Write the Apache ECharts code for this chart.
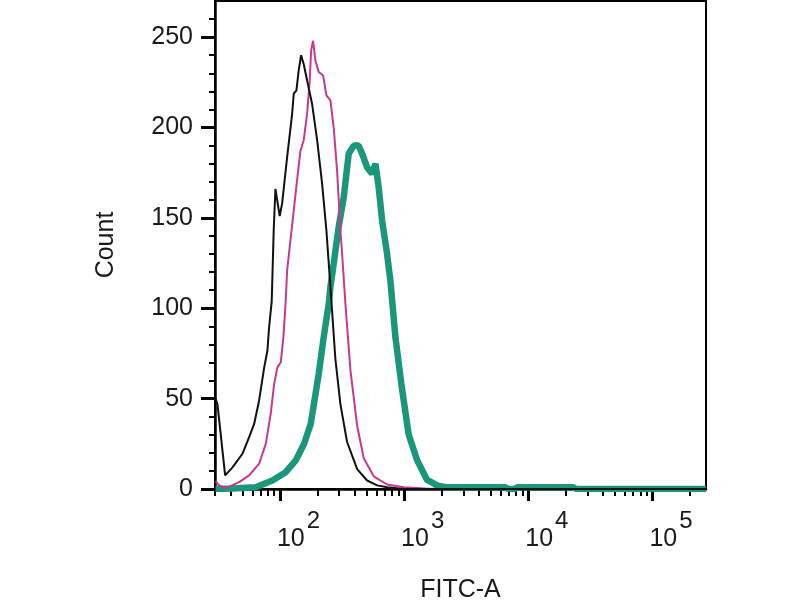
<!DOCTYPE html>
<html>
<head>
<meta charset="utf-8">
<script src="https://cdn.jsdelivr.net/npm/echarts@6/dist/echarts.min.js"></script>
<style>html,body{margin:0;padding:0;background:#fff;}#c{width:800px;height:600px;}</style>
</head>
<body>
<div id="c"></div>
<script>
// FITC-A (x) vs Count (y) for three histograms
const blackSeries = [
  [30.3, 50], [31.4, 47], [36.2, 7.5], [41.5, 12], [49.9, 19.5], [56.5, 28.7], [62.0, 36],
  [68.0, 49], [74.6, 67], [79.3, 76.6], [81.8, 89.5], [85.9, 104], [89.1, 143], [92.0, 166],
  [99.6, 151], [104.2, 158], [114.3, 183.6], [125.4, 207.6], [129.2, 218.7], [135.8, 220.5],
  [141.6, 231.6], [148.1, 240], [155.5, 235], [165.6, 226], [181.6, 213], [199.4, 193],
  [218.6, 169], [236.8, 143], [255.0, 112], [279.6, 72], [306.9, 47], [347.5, 26], [418.6, 11],
  [503.5, 4.7], [606.7, 2], [729.5, 1], [986, 0], [270000, 0]
];
const pinkSeries = [
  [30.3, 4.5], [32.4, 2], [36.6, 0.5], [46.9, 3.8], [56.5, 7.5], [68.0, 14], [76.9, 25],
  [84.3, 41.6], [89.8, 58], [95.5, 67.4], [101.5, 70], [106.7, 84], [111.3, 104], [114.3, 121],
  [125.4, 146], [137.5, 171], [146.2, 187], [155.5, 193], [165.6, 207.6], [173.8, 226],
  [178.3, 242.7], [185.0, 248], [193.1, 237], [205.3, 230.7], [222.7, 228.8], [236.8, 217.8],
  [255.0, 215], [271.0, 200], [288.8, 176], [306.9, 143], [316.9, 130], [336.8, 102.5],
  [369.8, 65.6], [418.6, 35], [473.2, 17], [569.3, 7], [729.5, 2.5], [993, 1], [1483, 0.3],
  [2000, 0], [270000, 0]
];
const tealSeries = [
  [30.3, 0], [41.5, 0.3], [63.8, 1], [87.0, 4.7], [111.3, 9.3], [134.0, 15.8], [156.6, 25],
  [177.0, 36], [205.3, 63.6], [225.2, 84], [247.2, 102.5], [255.0, 111.7], [271.0, 124.6],
  [297.2, 145], [326.6, 161.5], [358.1, 185.5], [392.6, 190], [430.5, 190], [459.2, 185.5],
  [503.5, 178], [552.3, 174.4], [587.5, 180], [624.0, 167], [665.3, 148.6], [729.5, 130],
  [776.2, 115], [851.1, 84], [951, 58], [1089, 30], [1273, 16], [1531, 5], [1845, 2],
  [2153, 1], [6546, 1], [6918, 0], [7727, 0], [8171, 1], [23070, 1], [24380, 0], [270000, 0]
];
const xMajorTicks = [100, 1000, 10000, 100000];
const xMinorTicks = [30, 40, 50, 60, 70, 80, 90, 200, 300, 400, 500, 600, 700, 800, 900,
  2000, 3000, 4000, 5000, 6000, 7000, 8000, 9000, 20000, 30000, 40000, 50000, 60000, 70000,
  80000, 90000, 200000];
const yMajorTicks = [0, 50, 100, 150, 200, 250];
const yMinorTicks = [10, 20, 30, 40, 60, 70, 80, 90, 110, 120, 130, 140, 160, 170, 180, 190,
  210, 220, 230, 240, 260];

const FONT = 'Liberation Sans, Arial, sans-serif';
const TXT = '#1a1a1a';
const chart = echarts.init(document.getElementById('c'));
const xBase = {
  type: 'log', logBase: 10, min: 30, max: 270000, position: 'bottom',
  splitLine: { show: false }, minorTick: { show: false }, minorSplitLine: { show: false }
};
const yBase = {
  type: 'value', min: 0, max: 270, position: 'left',
  splitLine: { show: false }
};
chart.setOption({
  animation: false,
  backgroundColor: '#fff',
  grid: { left: 215, right: 94, top: 1, bottom: 111, show: true, borderColor: '#000', borderWidth: 2,
    containLabel: false, outerBoundsMode: 'none' },
  xAxis: [
    Object.assign({}, xBase, {
      name: 'FITC-A', nameLocation: 'middle', nameGap: 89,
      nameTextStyle: { fontSize: 25, color: TXT, fontFamily: FONT },
      axisLine: { show: true, onZero: false, lineStyle: { color: '#000', width: 2.5 } },
      axisTick: { show: true, inside: false, length: 12, customValues: xMajorTicks, lineStyle: { color: '#000', width: 3 } },
      axisLabel: {
        show: true, customValues: xMajorTicks, margin: 20, align: 'left', padding: [0, 0, 0, -3],
        formatter: function (v) { return '{b|10}{s|' + Math.round(Math.log10(v)) + '}'; },
        rich: {
          b: { fontSize: 25, color: TXT, fontFamily: FONT, verticalAlign: 'bottom' },
          s: { fontSize: 24, color: TXT, fontFamily: FONT, verticalAlign: 'bottom', padding: [0, 0, 19, 2] }
        }
      }
    }),
    Object.assign({}, xBase, {
      axisLine: { show: false, onZero: false },
      axisTick: { show: true, inside: false, length: 7, customValues: xMinorTicks, lineStyle: { color: '#000', width: 2 } },
      axisLabel: { show: false }
    })
  ],
  yAxis: [
    Object.assign({}, yBase, {
      name: 'Count', nameLocation: 'middle', nameGap: 96, nameRotate: 90,
      nameTextStyle: { fontSize: 25, color: TXT, fontFamily: FONT },
      axisLine: { show: true, onZero: false, lineStyle: { color: '#000', width: 2.5 } },
      axisTick: { show: true, inside: false, length: 14, customValues: yMajorTicks, lineStyle: { color: '#000', width: 3 } },
      axisLabel: { show: true, customValues: yMajorTicks, margin: 22, fontSize: 25, color: TXT, fontFamily: FONT }
    }),
    Object.assign({}, yBase, {
      axisLine: { show: false, onZero: false },
      axisTick: { show: true, inside: false, length: 6, customValues: yMinorTicks, lineStyle: { color: '#000', width: 2 } },
      axisLabel: { show: false }
    })
  ],
  series: [
    { type: 'line', name: 'stained', data: tealSeries, xAxisIndex: 0, yAxisIndex: 0, showSymbol: false, symbol: 'none',
      lineStyle: { color: '#1a977a', width: 6.5 }, z: 2 },
    { type: 'line', name: 'isotype', data: pinkSeries, xAxisIndex: 0, yAxisIndex: 0, showSymbol: false, symbol: 'none',
      lineStyle: { color: '#c8388f', width: 2 }, z: 3 },
    { type: 'line', name: 'unstained', data: blackSeries, xAxisIndex: 0, yAxisIndex: 0, showSymbol: false, symbol: 'none',
      lineStyle: { color: '#111111', width: 2 }, z: 4 }
  ]
});
</script>
</body>
</html>
